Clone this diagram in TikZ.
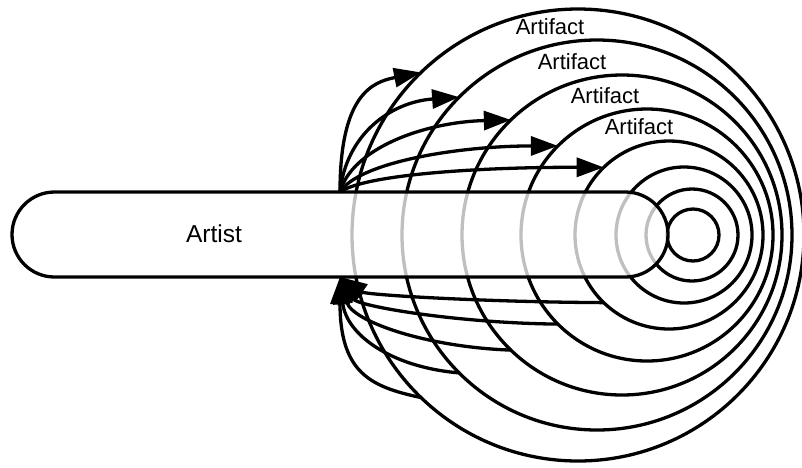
\documentclass[tikz,border=0pt]{standalone}
\usepackage{fontspec}
\setmainfont{Liberation Sans}
\usetikzlibrary{arrows.meta,shapes.misc}
\begin{document}
\begin{tikzpicture}[x=1pt,y=-1pt,
  ring/.style={circle,draw,line width=3.3pt,inner sep=0pt,outer sep=0pt},
  flow/.style={line width=3.3pt,-{Triangle[length=27pt,width=19pt]}},
  lbl/.style={font=\fontsize{22}{26}\selectfont,inner sep=0pt},
]
\useasboundingbox (0,0) rectangle (802,467);
% concentric-ish rings
\node[ring,minimum size=452pt] (c1) at (578,235) {};
\node[ring,minimum size=390pt] (c2) at (597,235) {};
\node[ring,minimum size=320pt] (c3) at (622,235) {};
\node[ring,minimum size=252pt] (c4) at (647,235) {};
\node[ring,minimum size=188pt] (c5) at (669,235) {};
\node[ring,minimum size=136pt] (c6) at (684,235) {};
\node[ring,minimum size=92pt]  (c7) at (692,235) {};
\node[ring,minimum size=52pt]  (c8) at (693,235) {};
% labels
\node[lbl] (a1) at (550,27) {Artifact};
\node[lbl] (a2) at (572,62) {Artifact};
\node[lbl] (a3) at (605,96) {Artifact};
\node[lbl] (a4) at (639,127) {Artifact};
% artist bar
\node[rounded rectangle,draw,line width=3.3pt,fill=white,fill opacity=0.75,
      minimum width=656pt,minimum height=85pt,inner sep=0pt,outer sep=0pt]
      (artist) at (340,234.5) {};
\node[font=\fontsize{24.5}{29}\selectfont,inner sep=0pt] (artistlbl) at (214,234) {Artist};
% upper arrows
\draw[flow] (artist.north) .. controls (340,95) and (372,82) .. (c1.134);
\draw[flow] (artist.north) .. controls (346,135) and (390,102) .. (c2.135);
\draw[flow] (artist.north) .. controls (352,148) and (425,122) .. (c3.134);
\draw[flow] (artist.north) .. controls (358,163) and (455,146) .. (c4.135);
\draw[flow] (artist.north) .. controls (366,174) and (485,167) .. (c5.134);
% lower arrows
\draw[flow] (c1.226) .. controls (372,387) and (340,374) .. (artist.south);
\draw[flow] (c2.225) .. controls (390,367) and (346,334) .. (artist.south);
\draw[flow] (c3.226) .. controls (425,347) and (352,321) .. (artist.south);
\draw[flow] (c4.225) .. controls (455,323) and (358,306) .. (artist.south);
\draw[flow] (c5.226) .. controls (485,302) and (366,295) .. (artist.south);
\end{tikzpicture}
\end{document}
